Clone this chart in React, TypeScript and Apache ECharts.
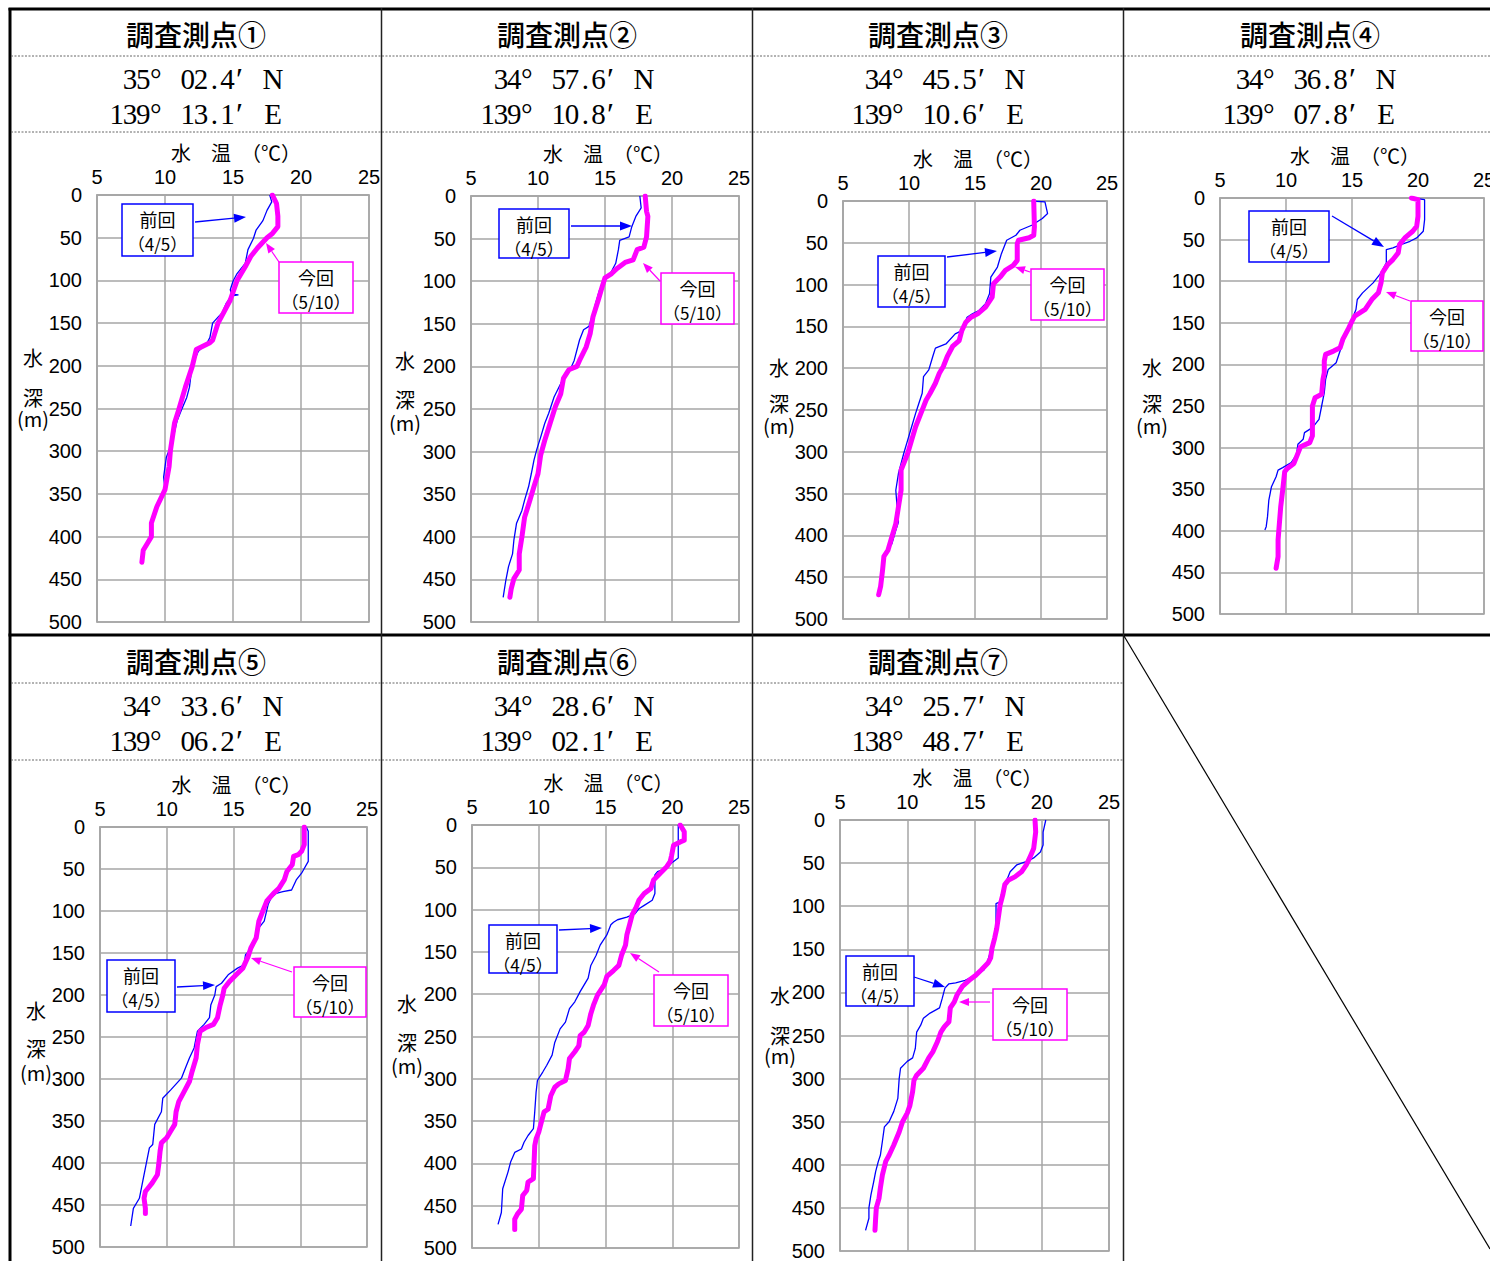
import React, { useEffect, useRef } from "react";
import * as echarts from "echarts";

// ---------- data ----------
const titles = ["調査測点①", "調査測点②", "調査測点③", "調査測点④", "調査測点⑤", "調査測点⑥", "調査測点⑦"];
const latDeg = ["35", "34", "34", "34", "34", "34", "34"];
const latMin = ["02.4", "57.6", "45.5", "36.8", "33.6", "28.6", "25.7"];
const lonDeg = ["139", "139", "139", "139", "139", "139", "138"];
const lonMin = ["13.1", "10.8", "10.6", "07.8", "06.2", "02.1", "48.7"];
const prevLabel = ["前回", "（4/5）"];
const currLabel = ["今回", "（5/10）"];
const xAxisName = "水　温　（℃）";
const yAxisName = ["水", "深", "(m)"];

// [temperature °C, depth m]
const st1Prev = [[17.7,0],[17.85,8],[17.5,18],[17.2,30],[16.7,41],[16.5,51],[16.1,64],[15.9,80],[15.3,92],[15.0,101],[14.8,111],[14.9,116],[15.4,117],[14.9,118],[14.5,127],[14.2,138],[13.9,143],[13.5,150],[13.3,167],[13.1,173],[12.45,183],[12.2,192],[11.96,204],[11.8,225],[11.6,237],[11.2,252],[10.9,264],[10.5,291],[10.1,307],[9.9,330],[10.0,345],[9.6,357],[9.3,373],[9.0,388],[9.0,395]];
const st1Curr = [[17.9,0],[18.2,10],[18.3,25],[18.3,37],[17.9,45],[17.5,50],[16.8,62],[16.3,72],[15.9,84],[15.3,100],[14.8,123],[14.3,138],[13.9,150],[13.5,170],[13.3,173],[12.3,181],[12.0,201],[11.5,225],[11.0,252],[10.7,267],[10.4,299],[10.3,318],[10.0,345],[9.4,365],[9.0,384],[9.0,400],[8.7,408],[8.4,416],[8.3,430]];
const st2Prev = [[17.6,0],[17.7,14],[17.3,24],[17.0,36],[16.8,48],[16.1,52],[16.0,63],[15.8,79],[15.4,91],[15.0,99],[14.6,110],[14.3,126],[14.1,138],[13.8,153],[13.4,157],[13.1,169],[12.7,193],[12.4,204],[12.0,210],[11.7,220],[11.2,236],[10.8,255],[10.5,267],[10.2,283],[9.9,298],[9.7,310],[9.5,326],[9.3,341],[9.0,357],[8.8,369],[8.4,384],[8.2,404],[8.1,420],[7.8,435],[7.6,451],[7.4,471]];
const st2Curr = [[18.0,0],[18.1,18],[18.2,24],[18.1,48],[17.9,60],[17.4,63],[17.1,75],[16.5,78],[15.9,85],[15.5,91],[15.0,96],[14.8,106],[14.5,122],[14.3,132],[14.1,142],[13.9,161],[13.6,177],[13.1,193],[12.9,200],[12.3,204],[11.9,214],[11.7,232],[11.3,247],[10.9,267],[10.5,287],[10.2,304],[10.0,326],[9.7,341],[9.4,357],[9.0,377],[8.8,400],[8.6,420],[8.6,439],[8.2,449],[8.0,461],[7.9,471]];
const st3Prev = [[19.3,0],[20.3,1],[20.5,15],[20.1,21],[19.3,29],[18.4,35],[18.1,41],[17.4,47],[17.2,55],[17.0,63],[16.7,79],[16.2,91],[16.1,111],[15.8,123],[15.3,131],[14.8,135],[14.4,139],[14.0,155],[13.5,159],[12.8,171],[12.0,176],[11.8,186],[11.5,202],[11.1,210],[11.0,230],[10.75,242],[10.5,254],[10.2,270],[9.9,286],[9.6,302],[9.2,326],[9.0,346],[9.1,366],[9.2,384],[9.0,394],[8.7,410],[8.6,412]];
const st3Curr = [[19.45,0],[19.5,31],[19.45,41],[19.1,44],[18.3,47],[18.2,51],[18.2,71],[17.9,77],[17.3,83],[16.9,91],[16.4,99],[16.3,115],[15.8,127],[15.2,135],[14.7,139],[14.3,145],[14.0,155],[13.8,167],[13.3,174],[12.9,186],[12.6,198],[12.3,206],[12.0,218],[11.6,230],[11.3,238],[10.9,254],[10.5,270],[10.2,286],[9.9,302],[9.4,322],[9.4,346],[9.2,366],[9.0,386],[8.7,402],[8.4,418],[8.1,425],[8.0,441],[7.85,461],[7.7,471]];
const st4Prev = [[19.6,0],[20.5,2],[20.5,26],[20.4,40],[19.9,48],[19.4,52],[18.7,56],[18.1,60],[17.6,62],[17.6,78],[17.2,90],[16.6,102],[15.8,114],[15.4,122],[15.3,134],[15.1,142],[14.8,154],[14.4,170],[14.05,186],[13.8,198],[13.2,206],[13.0,218],[12.9,234],[12.7,250],[12.5,266],[12.0,276],[11.4,282],[11.3,290],[10.9,296],[10.8,308],[10.4,318],[9.75,324],[9.4,327],[9.25,335],[8.9,347],[8.7,363],[8.6,383],[8.5,395],[8.4,399]];
const st4Curr = [[19.5,0],[20.0,2],[20.0,22],[19.9,34],[19.6,40],[19.0,48],[18.6,56],[18.5,66],[18.1,74],[17.7,80],[17.3,90],[17.2,102],[17.0,114],[16.5,122],[16.0,134],[15.2,142],[15.0,148],[14.7,158],[14.3,170],[14.1,180],[13.6,184],[13.0,188],[12.9,196],[12.9,210],[12.8,218],[12.7,236],[12.2,240],[12.0,250],[12.0,286],[11.8,294],[11.1,299],[10.9,307],[10.6,319],[10.1,325],[9.9,329],[9.75,351],[9.6,371],[9.5,391],[9.4,411],[9.4,431],[9.25,445]];
const st5Prev = [[20.45,0],[20.6,5],[20.6,41],[20.1,55],[19.7,63],[19.35,75],[18.7,77],[18.2,79],[17.8,85],[17.6,92],[17.3,112],[16.9,120],[16.7,132],[16.4,144],[15.9,152],[15.8,164],[15.3,168],[14.6,176],[14.1,186],[13.7,190],[13.6,200],[13.3,212],[13.2,227],[12.8,235],[12.3,243],[12.05,263],[11.7,275],[11.4,287],[11.1,299],[10.3,313],[9.7,323],[9.6,339],[9.1,354],[8.95,378],[8.7,382],[8.45,402],[8.2,422],[7.95,442],[7.5,454],[7.3,475]];
const st5Curr = [[20.3,0],[20.3,21],[20.1,29],[19.85,33],[19.5,35],[19.4,45],[19.0,53],[18.8,63],[18.4,73],[18.0,79],[17.5,88],[17.2,100],[16.9,112],[16.7,132],[16.3,144],[16.1,154],[15.7,168],[15.2,176],[14.7,184],[14.3,192],[14.2,200],[14.0,212],[13.8,227],[13.5,235],[12.9,239],[12.5,243],[12.3,259],[12.2,275],[11.9,291],[11.7,303],[11.3,315],[10.9,327],[10.7,339],[10.6,354],[10.3,362],[10.0,370],[9.6,376],[9.5,386],[9.4,402],[9.3,414],[8.9,424],[8.7,428],[8.4,434],[8.3,442],[8.4,454],[8.4,460]];
const st6Prev = [[20.45,0],[20.45,39],[19.95,45],[19.6,51],[18.9,55],[18.7,59],[18.7,81],[18.5,89],[17.9,95],[17.5,99],[17.2,105],[16.6,109],[15.9,112],[15.6,115],[15.4,118],[15.1,130],[14.6,142],[14.3,154],[13.9,166],[13.7,181],[13.1,197],[12.7,209],[12.3,217],[12.0,233],[11.6,241],[11.2,257],[11.0,272],[10.6,284],[10.3,292],[9.9,302],[9.8,316],[9.7,339],[9.6,359],[9.2,367],[8.9,375],[8.7,383],[8.2,387],[7.9,398],[7.7,410],[7.3,430],[7.2,458],[6.95,472]];
const st6Curr = [[20.6,0],[20.9,8],[20.9,18],[20.6,20],[20.1,24],[19.95,36],[19.85,43],[19.6,49],[19.1,57],[18.6,65],[18.4,75],[17.9,81],[17.5,89],[17.3,97],[17.0,106],[16.8,118],[16.6,130],[16.5,142],[16.2,154],[16.0,166],[15.6,172],[15.1,179],[14.9,189],[14.4,201],[14.1,213],[13.9,223],[13.7,237],[13.4,245],[13.1,249],[13.0,261],[12.7,268],[12.3,276],[12.2,288],[12.0,302],[11.5,306],[11.2,310],[10.9,320],[10.7,336],[10.4,339],[10.2,351],[10.0,363],[9.8,371],[9.7,379],[9.6,418],[9.4,420],[9.2,422],[9.1,432],[8.8,438],[8.7,454],[8.4,460],[8.2,466],[8.2,478]];
const st7Prev = [[20.3,0],[20.1,14],[20.1,29],[19.9,37],[19.4,44],[18.9,48],[18.5,50],[18.15,52],[17.65,60],[17.4,70],[17.25,79],[16.9,95],[16.6,97],[16.6,126],[16.4,141],[16.1,157],[15.9,168],[15.7,174],[15.1,180],[14.3,186],[13.6,189],[13.1,190],[12.8,195],[12.6,207],[12.4,218],[11.7,224],[11.2,230],[11.0,238],[10.7,246],[10.6,265],[10.4,276],[10.0,280],[9.5,288],[9.4,300],[9.3,323],[9.0,338],[8.65,350],[8.3,356],[8.15,373],[8.0,389],[7.85,396],[7.65,408],[7.5,420],[7.3,435],[7.15,450],[7.15,462],[6.9,476]];
const st7Curr = [[19.5,0],[19.55,14],[19.4,33],[19.1,44],[18.85,52],[18.5,60],[18.0,66],[17.5,70],[17.25,75],[17.1,87],[16.9,99],[16.8,110],[16.65,126],[16.5,137],[16.3,149],[16.2,160],[16.0,166],[15.5,174],[15.1,180],[14.6,186],[14.1,193],[13.7,203],[13.5,211],[13.2,218],[13.1,234],[12.75,240],[12.5,246],[12.25,257],[11.9,269],[11.6,276],[11.2,288],[10.7,296],[10.5,302],[10.4,315],[10.2,331],[10.0,340],[9.65,350],[9.4,362],[9.0,377],[8.65,389],[8.4,396],[8.15,412],[8.0,427],[7.9,439],[7.7,450],[7.65,462],[7.6,476]];

const prevSeries = [st1Prev, st2Prev, st3Prev, st4Prev, st5Prev, st6Prev, st7Prev];
const currSeries = [st1Curr, st2Curr, st3Curr, st4Curr, st5Curr, st6Curr, st7Curr];

// ---------- layout (positions only) ----------
const W = 1490, H = 1261;
const cellLeft = [10, 381, 752, 1123, 10, 381, 752];
const cellTop = [8, 8, 8, 8, 635, 635, 635];
const titleCenter = [196, 567, 938, 1310, 196, 567, 938];
const plots = [
  [97, 195, 272, 427], [471, 196, 268, 426], [843, 201, 264, 418], [1220, 198, 264, 416],
  [100, 827, 267, 420], [472, 825, 267, 423], [840, 820, 269, 431],
];
// [x, y(水), y(深), y((m))]
const yNamePos = [
  [33, 357, 397, 418], [405, 360, 399, 422], [779, 367, 403, 425], [1152, 367, 403, 425],
  [36, 1010, 1048, 1072], [407, 1003, 1042, 1065], [780, 995, 1035, 1055],
];
const prevBoxes = [
  [122, 204, 71, 52, 195, 222, 246, 217], [499, 209, 70, 49, 571, 226, 632, 226],
  [878, 256, 67, 51, 947, 257, 997, 251], [1249, 211, 80, 51, 1332, 216, 1384, 247],
  [107, 960, 68, 52, 177, 987, 215, 985], [489, 925, 68, 48, 559, 930, 602, 928],
  [846, 956, 68, 50, 914, 977, 945, 987],
];
const currBoxes = [
  [279, 262, 74, 51, 279, 262, 266, 243], [661, 273, 73, 51, 660, 281, 643, 263],
  [1031, 269, 73, 51, 1030, 272, 1015, 267], [1411, 301, 72, 50, 1410, 301, 1386, 292],
  [294, 967, 72, 50, 292, 972, 251, 958], [654, 975, 74, 51, 659, 972, 630, 953],
  [993, 989, 74, 51, 990, 1002, 959, 1002],
];

const BLUE = "#0000ff";
const MAGENTA = "#ff00ff";
const GRIDC = "#a6a6a6";
const SANS = "'Liberation Sans', Arial, sans-serif";
const CJK = "'Noto Sans CJK JP', sans-serif";
const SERIF = "'Liberation Serif', 'DejaVu Serif', serif";

function txt(text: string, x: number, y: number, o: any = {}) {
  return {
    type: "text", z: 100, silent: true,
    style: {
      text, x, y,
      fill: o.fill || "#000",
      fontSize: o.fontSize || 20,
      fontFamily: o.fontFamily || CJK,
      fontWeight: o.fontWeight || "normal",
      align: o.align || "center", textAlign: o.align || "center",
      verticalAlign: "middle", textVerticalAlign: "middle",
    },
  };
}

function arrow(x1: number, y1: number, x2: number, y2: number, color: string, len: number, w: number, lw: number) {
  const dx = x2 - x1, dy = y2 - y1;
  const L = Math.hypot(dx, dy);
  const ux = dx / L, uy = dy / L;
  const bx = x2 - ux * len, by = y2 - uy * len;
  const px = -uy * w / 2, py = ux * w / 2;
  return [
    { type: "line", z: 100, silent: true, shape: { x1, y1, x2: bx, y2: by }, style: { stroke: color, lineWidth: lw } },
    { type: "polygon", z: 100, silent: true, shape: { points: [[x2, y2], [bx + px, by + py], [bx - px, by - py]] }, style: { fill: color } },
  ];
}

function monoRight(str: string, xEnd: number, y: number, slot: number) {
  const out: any[] = [];
  const n = str.length;
  for (let i = 0; i < n; i++) {
    out.push(txt(str[i], xEnd - (n - i) * slot + slot / 2, y, { fontFamily: SERIF, fontSize: 29 }));
  }
  return out;
}
function monoLeft(str: string, xStart: number, y: number, slot: number) {
  const out: any[] = [];
  for (let i = 0; i < str.length; i++) {
    out.push(txt(str[i], xStart + i * slot + slot / 2, y, { fontFamily: SERIF, fontSize: 29 }));
  }
  return out;
}

function coordLine(deg: string, min: string, hemi: string, left: number, y: number) {
  const slot = 13.3;
  const els: any[] = [];
  els.push(...monoRight(deg, left + 140, y, slot));
  els.push(txt("°", left + 140, y, { fontFamily: SERIF, fontSize: 29, align: "left" }));
  els.push(...monoLeft(min, left + 171, y, slot));
  els.push(txt("′", left + 226, y, { fontFamily: SERIF, fontSize: 32, align: "left" }));
  els.push(txt(hemi, left + 263, y, { fontFamily: SERIF, fontSize: 29 }));
  return els;
}

function buildOption() {
  const grids: any[] = [], xAxes: any[] = [], yAxes: any[] = [], series: any[] = [];
  const graphics: any[] = [];

  const line = (x1: number, y1: number, x2: number, y2: number, lw: number, color = "#000", dash?: number[]) => ({
    type: "line", z: 90, silent: true, shape: { x1, y1, x2, y2 },
    style: { stroke: color, lineWidth: lw, lineDash: dash },
  });
  graphics.push(line(8.5, 9, W, 9, 3));
  graphics.push(line(10, 8, 10, H, 3));
  graphics.push(line(8.5, 635, W, 635, 3));
  [381.5, 752.5, 1123.5].forEach((x) => graphics.push(line(x, 8, x, H, 1.5, "#222")));
  graphics.push(line(11, 56, W, 56, 1, "#666", [2, 1.5]));
  graphics.push(line(11, 132, W, 132, 1, "#666", [2, 1.5]));
  graphics.push(line(11, 683, 1123, 683, 1, "#666", [2, 1.5]));
  graphics.push(line(11, 760, 1123, 760, 1, "#666", [2, 1.5]));
  graphics.push(line(1124, 636, W, 1249, 1.2, "#000"));

  for (let i = 0; i < 7; i++) {
    const [gl, gt, gw, gh] = plots[i];
    grids.push({
      left: gl, top: gt, width: gw, height: gh,
      show: true, borderColor: GRIDC, borderWidth: 1.5, backgroundColor: "transparent",
      containLabel: false, outerBoundsMode: "none",
    });
    xAxes.push({
      type: "value", gridIndex: i, position: "top", min: 5, max: 25, interval: 5,
      name: xAxisName, nameLocation: "middle", nameGap: 33,
      nameTextStyle: { fontSize: 20, fontFamily: CJK, color: "#000", padding: [0, 0, 0, 6] },
      axisLine: { show: true, lineStyle: { color: GRIDC, width: 1.5 } },
      axisTick: { show: false },
      axisLabel: { fontSize: 20, fontFamily: SANS, color: "#000", margin: 8 },
      splitLine: { show: true, lineStyle: { color: GRIDC, width: 1.5 } },
    });
    yAxes.push({
      type: "value", gridIndex: i, inverse: true, min: 0, max: 500, interval: 50,
      axisLine: { show: true, lineStyle: { color: GRIDC, width: 1.5 } },
      axisTick: { show: false },
      axisLabel: { fontSize: 20, fontFamily: SANS, color: "#000", margin: 15 },
      splitLine: { show: true, lineStyle: { color: GRIDC, width: 1.5 } },
    });
    series.push({
      type: "line", xAxisIndex: i, yAxisIndex: i, data: prevSeries[i],
      showSymbol: false, symbol: "none", silent: true, z: 2,
      lineStyle: { color: BLUE, width: 1.3 },
    });
    series.push({
      type: "line", xAxisIndex: i, yAxisIndex: i, data: currSeries[i],
      showSymbol: false, symbol: "none", silent: true, z: 3,
      lineStyle: { color: MAGENTA, width: 5, cap: "round", join: "round" },
    });

    const left = cellLeft[i], top = cellTop[i];
    graphics.push(txt(titles[i], titleCenter[i], top + 26, { fontSize: 28, fontWeight: 500 }));
    graphics.push(...coordLine(latDeg[i], latMin[i], "N", left, top + 71));
    graphics.push(...coordLine(lonDeg[i], lonMin[i], "E", left, top + 106));

    const [nx, n1, n2, n3] = yNamePos[i];
    graphics.push(txt(yAxisName[0], nx, n1, { fontSize: 20 }));
    graphics.push(txt(yAxisName[1], nx, n2, { fontSize: 20 }));
    graphics.push(txt(yAxisName[2], nx, n3, { fontSize: 20 }));

    const pb = prevBoxes[i];
    graphics.push({ type: "rect", z: 100, silent: true, shape: { x: pb[0], y: pb[1], width: pb[2], height: pb[3] }, style: { fill: "#fff", stroke: BLUE, lineWidth: 1.5 } });
    graphics.push(txt(prevLabel[0], pb[0] + pb[2] / 2, pb[1] + 15, { fontSize: 18 }));
    graphics.push(txt(prevLabel[1], pb[0] + pb[2] / 2, pb[1] + 39, { fontSize: 17 }));
    graphics.push(...arrow(pb[4], pb[5], pb[6], pb[7], BLUE, 12, 9, 1.3));

    const cb = currBoxes[i];
    graphics.push({ type: "rect", z: 100, silent: true, shape: { x: cb[0], y: cb[1], width: cb[2], height: cb[3] }, style: { fill: "#fff", stroke: MAGENTA, lineWidth: 1.5 } });
    graphics.push(txt(currLabel[0], cb[0] + cb[2] / 2, cb[1] + 15, { fontSize: 18 }));
    graphics.push(txt(currLabel[1], cb[0] + cb[2] / 2, cb[1] + 39, { fontSize: 17 }));
    graphics.push(...arrow(cb[4], cb[5], cb[6], cb[7], MAGENTA, 10, 8, 1.2));
  }

  return {
    animation: false,
    backgroundColor: "#fff",
    grid: grids,
    xAxis: xAxes,
    yAxis: yAxes,
    series,
    graphic: { elements: graphics },
  };
}

export default function App() {
  const ref = useRef<HTMLDivElement>(null);
  useEffect(() => {
    if (!ref.current) return;
    const chart = echarts.init(ref.current, null, { renderer: "svg" });
    chart.setOption(buildOption() as any);
    return () => chart.dispose();
  }, []);
  return (
    <div
      ref={ref}
      style={{ position: "absolute", left: 0, top: 0, width: W, height: H, background: "#fff" }}
    />
  );
}
